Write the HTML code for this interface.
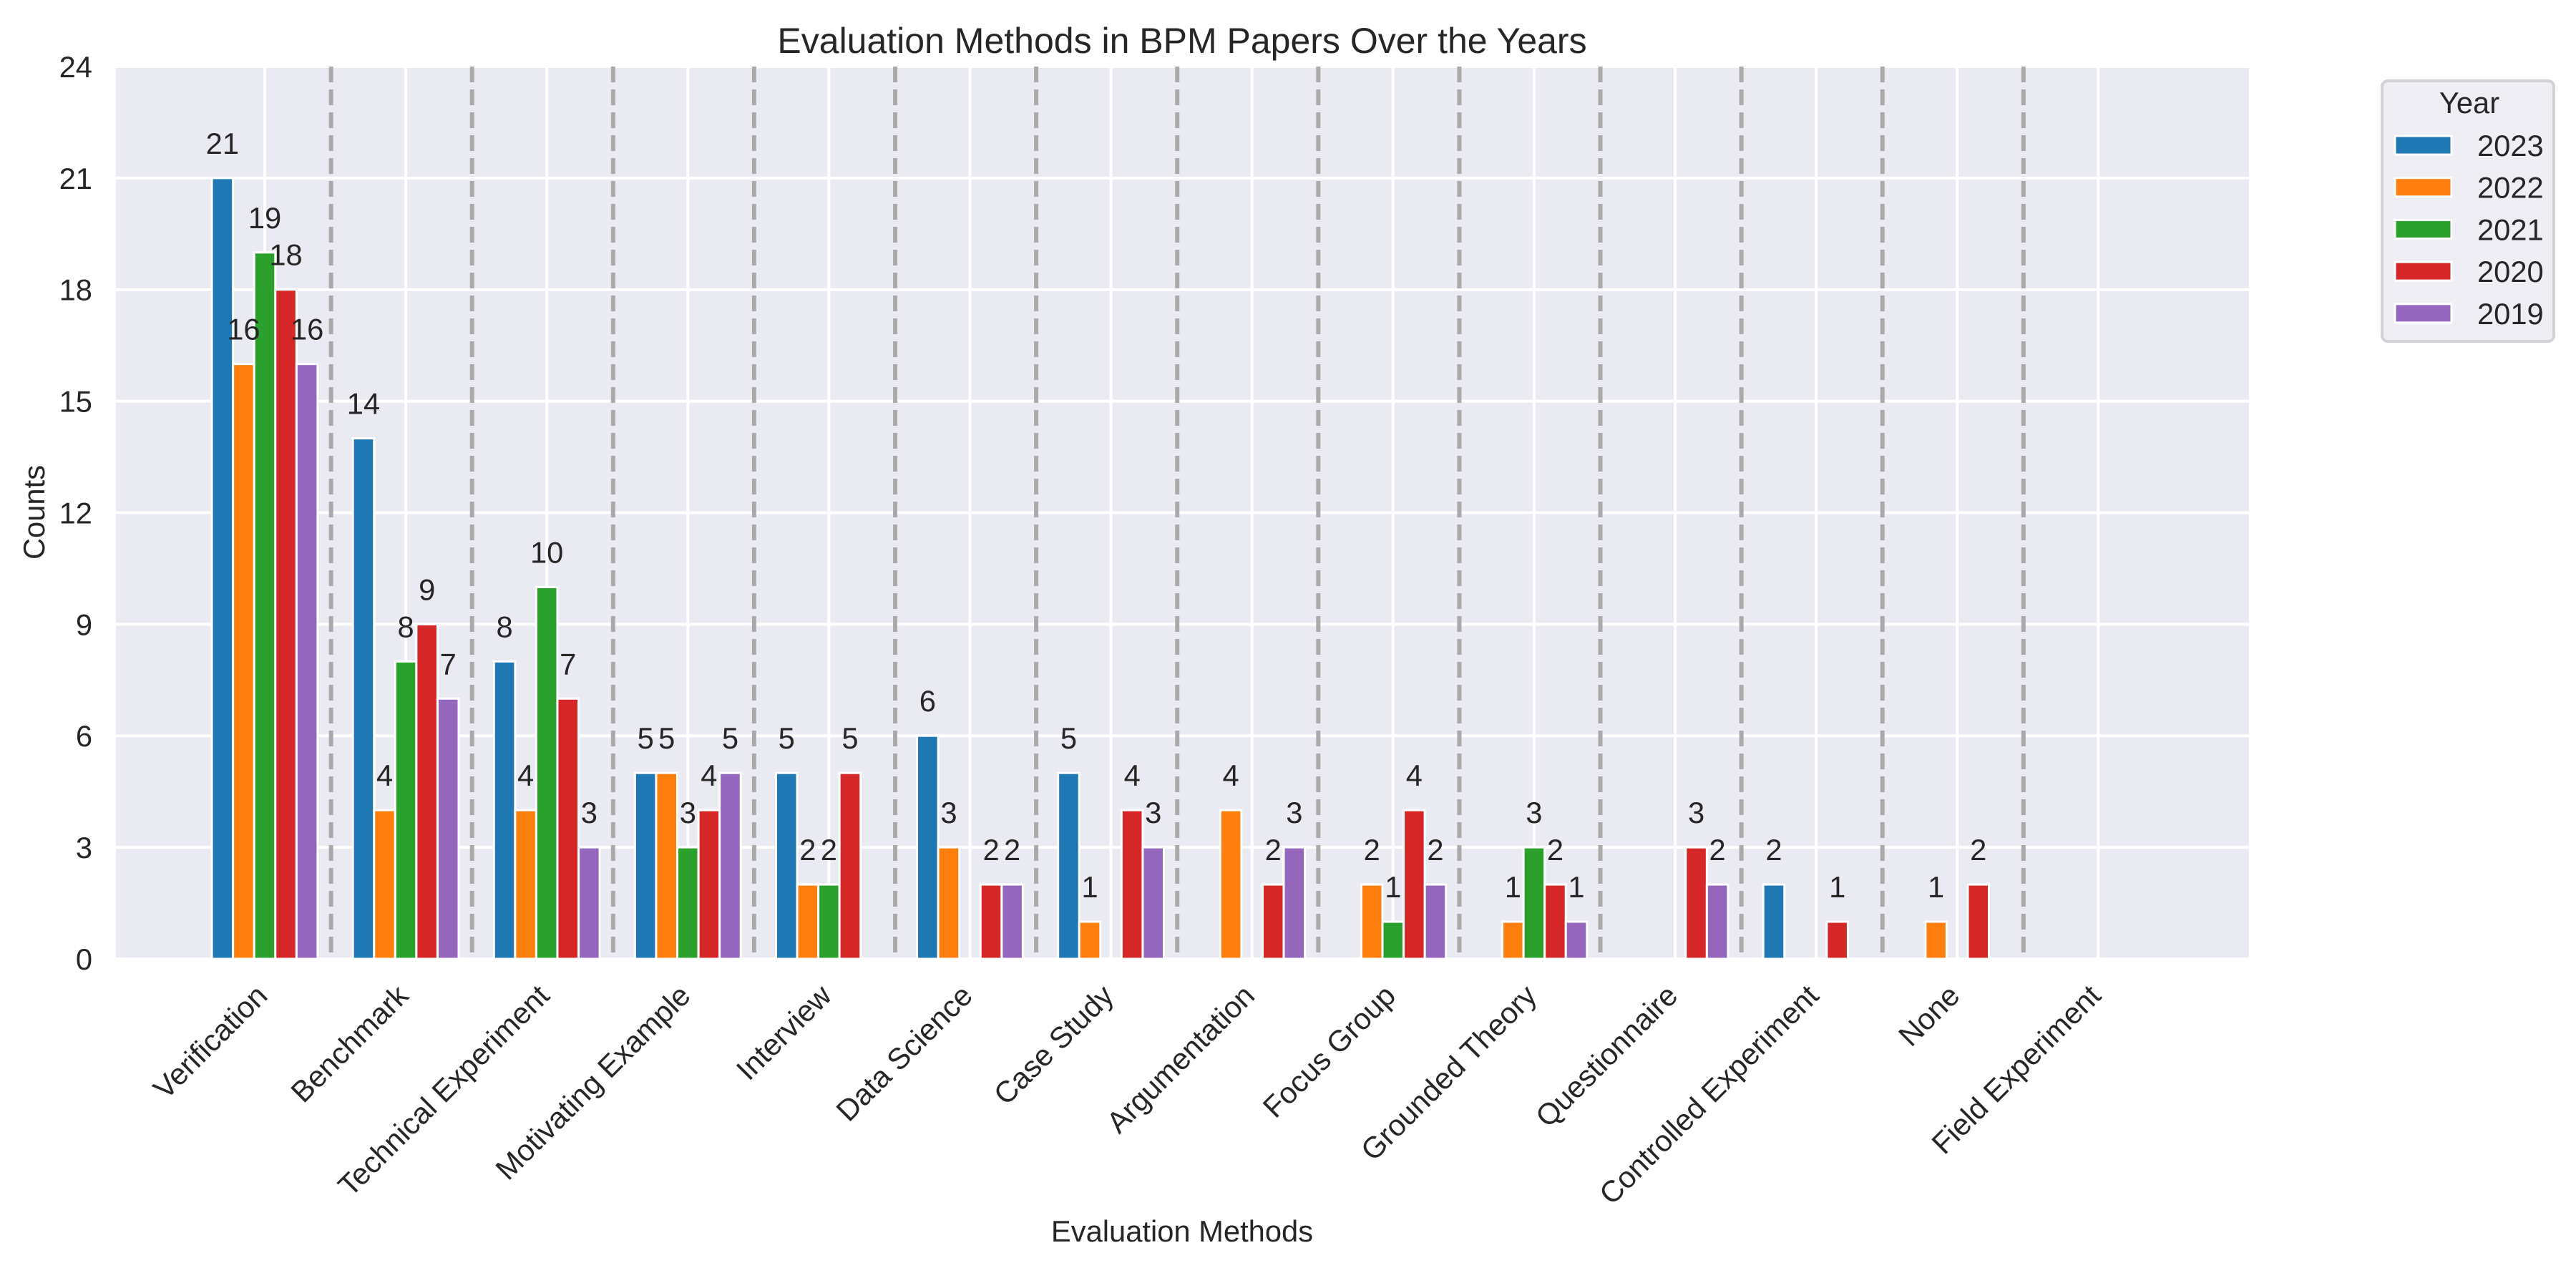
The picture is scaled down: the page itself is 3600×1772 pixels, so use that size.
<!DOCTYPE html>
<html><head><meta charset="utf-8"><style>
html,body{margin:0;padding:0;background:#fff;}
svg{display:block;font-family:"Liberation Sans",Arial,sans-serif;}
</style></head><body>
<svg id="chart" width="3600" height="1772" viewBox="0 0 3600 1772" xmlns="http://www.w3.org/2000/svg">
<rect x="0" y="0" width="3600" height="1772" fill="#ffffff"/>
<rect x="162" y="93" width="2981" height="1247" fill="#eaeaf2"/>
<g id="grid"></g>
<g id="dividers"></g>
<g id="bars"></g>
<g id="labels"></g>
<g id="yticks"></g>
<g id="xticks"></g>
<text x="1652" y="74" font-size="50" fill="#262626" text-anchor="middle">Evaluation Methods in BPM Papers Over the Years</text>
<text x="1652" y="1735" font-size="41.7" fill="#262626" text-anchor="middle">Evaluation Methods</text>
<text transform="translate(62,716) rotate(-90)" font-size="41.7" fill="#262626" text-anchor="middle">Counts</text>
<g id="legend">
<rect x="3329" y="113" width="240" height="364" rx="8" fill="#eeeef4" stroke="#d3d3d6" stroke-width="4"/>
<text x="3451" y="158" font-size="41.7" fill="#262626" text-anchor="middle">Year</text>
</g>
</svg>
<script>
const categories = ["Verification","Benchmark","Technical Experiment","Motivating Example","Interview","Data Science","Case Study","Argumentation","Focus Group","Grounded Theory","Questionnaire","Controlled Experiment","None","Field Experiment"];
const years = ["2023","2022","2021","2020","2019"];
const s2023 = [21,14,8,5,5,6,5,0,0,0,0,2,0,0];
const s2022 = [16,4,4,5,2,3,1,4,2,1,0,0,1,0];
const s2021 = [19,8,10,3,2,0,0,0,1,3,0,0,0,0];
const s2020 = [18,9,7,4,5,2,4,2,4,2,3,1,2,0];
const s2019 = [16,7,3,5,0,2,3,3,2,1,2,0,0,0];
const yTicks = [0,3,6,9,12,15,18,21,24];
const colors = ["#1f77b4","#ff7f0e","#2ca02c","#d62728","#9467bd"];
const series = [s2023,s2022,s2021,s2020,s2019];

const NS = "http://www.w3.org/2000/svg";
const X0 = 370, DX = 197.1, Y0 = 1340, PY = 51.96;
const PL = 162, PR = 3143, PT = 93;
function xs(i){ return X0 + i*DX; }
function ys(v){ return Y0 - v*PY; }
function mk(tag, attrs, parent){
  const e = document.createElementNS(NS, tag);
  for (const k in attrs) e.setAttribute(k, attrs[k]);
  parent.appendChild(e); return e;
}
const grid = document.getElementById('grid');
yTicks.forEach(t => {
  const l = mk('line', {x1:PL, x2:PR, y1:ys(t), y2:ys(t), stroke:'#fff', 'stroke-width':4}, grid);
  
  
});
categories.forEach((c,i) => {
  const l = mk('line', {x1:xs(i), x2:xs(i), y1:PT, y2:Y0, stroke:'#fff', 'stroke-width':4}, grid);
  
  
});
const div = document.getElementById('dividers');
for (let i = 0; i < categories.length - 1; i++) {
  const l = mk('line', {x1:xs(i+0.47), x2:xs(i+0.47), y1:PT, y2:Y0, stroke:'#aaaaaa', 'stroke-width':6, 'stroke-dasharray':'22 10'}, div);
  
  
}
const bars = document.getElementById('bars');
const labels = document.getElementById('labels');
const W = 0.15;
series.forEach((s, k) => {
  const off = (k - 2) * W;
  s.forEach((v, i) => {
    const cx = xs(i + off);
    const w = W*DX;
    const r = mk('rect', {x:cx - w/2, y:ys(v), width:w, height:Y0-ys(v), fill:colors[k], stroke:'#fff', 'stroke-width':3}, bars);
    
    
    if (v > 0) {
      const t = mk('text', {x:cx, y:ys(v)-34, 'font-size':41.7, fill:'#262626', 'text-anchor':'middle'}, labels);
      t.textContent = v;
      
      
    }
  });
});
const yt = document.getElementById('yticks');
yTicks.forEach(t => {
  const e = mk('text', {x:129, y:ys(t)+15, 'font-size':41.7, fill:'#262626', 'text-anchor':'end'}, yt);
  e.textContent = t;
  
  
});
const xt = document.getElementById('xticks');
categories.forEach((c,i) => {
  const x = xs(i) + 6, y = 1394;
  const e = mk('text', {x:x, y:y, 'font-size':41.7, fill:'#262626', 'text-anchor':'end', transform:'rotate(-45 '+x+' '+y+')'}, xt);
  e.textContent = c;
  
  
});
const lg = document.getElementById('legend');
years.forEach((yv,k) => {
  const cy = 203 + k*58.7;
  const r = mk('rect', {x:3347, y:cy-13, width:79, height:26, fill:colors[k], stroke:'#fff', 'stroke-width':3}, lg);
  
  
  const t = mk('text', {x:3462, y:cy+15, 'font-size':41.7, fill:'#262626'}, lg);
  t.textContent = yv;
  
  
});
</script>
</body></html>
